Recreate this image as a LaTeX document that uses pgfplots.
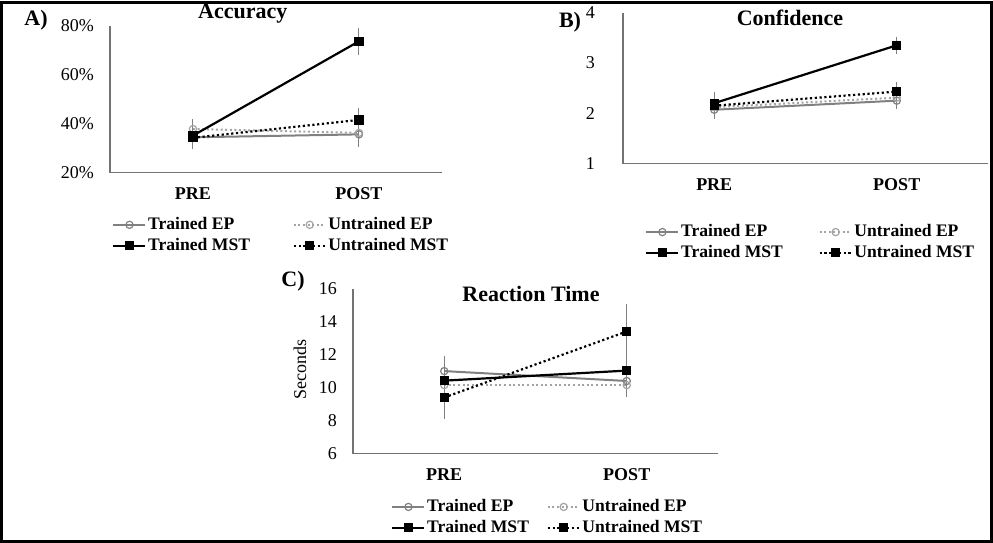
\documentclass[border=0pt]{standalone}
\usepackage{fontspec}
\setmainfont{Liberation Serif}
\usepackage{pgfplots}
\pgfplotsset{compat=1.18}
\definecolor{tep}{gray}{0.50}
\definecolor{uep}{gray}{0.64}
\definecolor{errc}{gray}{0.50}
\definecolor{axc}{gray}{0.45}
\pgfplotsset{
  panel/.style={
    scale only axis,
    axis line style={draw=none},
    major tick length=0pt,
    xmin=-0.5, xmax=1.5,
    xtick={0,1}, xticklabels={PRE,POST},
    xticklabel style={font=\bfseries\fontsize{9}{10}\selectfont, yshift=-4pt},
    yticklabel style={font=\fontsize{9}{10}\selectfont, xshift=-4.5pt},
    /pgf/number format/assume math mode=true,
    clip=false,
    legend columns=2,
    legend cell align=left,
    legend image code/.code={\draw[mark repeat=2,mark phase=2,##1] plot coordinates {(0pt,0pt) (8pt,0pt) (16pt,0pt)};},
    legend style={draw=none, fill=none, inner sep=0pt, row sep=1.2pt,
      font=\bfseries\fontsize{8.8}{9.5}\selectfont, anchor=north west,
      nodes={inner sep=0.8pt}},
    every axis title shift=0pt,
    title style={font=\bfseries\fontsize{11}{13}\selectfont, anchor=center, inner sep=0pt},
    execute at begin axis={\draw[axc, line width=0.7pt] (rel axis cs:0,1) -- (rel axis cs:0,0) -- (rel axis cs:1,0);},
  },
  TEP/.style={color=tep, line width=1pt, mark=o, mark size=1.8pt, mark options={solid, fill=white, line width=0.6pt}},
  UEP/.style={color=uep, line width=1pt, dash pattern=on 1pt off 1.3pt, mark=o, mark size=1.8pt, mark options={solid, fill=white, line width=0.6pt}},
  TMST/.style={color=black, line width=1.1pt, mark=square*, mark size=1.75pt, mark options={solid}},
  UMST/.style={color=black, line width=1.1pt, dash pattern=on 1.1pt off 1.3pt, mark=square*, mark size=1.75pt, mark options={solid}},
  EB/.style={error bars/.cd, y dir=both, y explicit,
    error bar style={solid, draw=errc, line width=0.5pt},
    error mark options={solid, draw=errc, mark size=1.6pt, line width=0.5pt}},
}
\begin{document}
\begin{tikzpicture}
% outer frame
\draw[line width=1.5pt] (0.75pt,-0.75pt) rectangle (495.75pt,-270.25pt);

% ---------- A) Accuracy ----------
\begin{axis}[panel,
  at={(55pt,-86pt)}, anchor=south west,
  width=166pt, height=73.5pt,
  ymin=20, ymax=80, ytick={20,40,60,80}, yticklabels={20\%,40\%,60\%,80\%},
  title={Accuracy}, title style={at={(axis description cs:0.40,1.082)}},
  legend style={at={(axis description cs:0.006,-0.29)},
    /tikz/every even column/.append style={column sep=20.5pt}},
]
\addplot[TEP, EB] table[x=x, y=y, y error=e] {
x y e
0 34.4 3.5
1 35.6 3.8
};
\addplot[UEP, EB] table[x=x, y=y, y error=e] {
x y e
0 37.8 2.6
1 36.2 3.0
};
\addplot[TMST, EB] table[x=x, y=y, y error=e] {
x y e
0 35.1 3.8
1 73.6 4.3
};
\addplot[UMST, EB] table[x=x, y=y, y error=e] {
x y e
0 34.2 3.4
1 41.5 3.4
};
\legend{Trained EP, Untrained EP, Trained MST, Untrained MST}
\end{axis}

% ---------- B) Confidence ----------
\begin{axis}[panel,
  at={(311.5pt,-81.5pt)}, anchor=south west,
  width=182.5pt, height=75.5pt,
  ymin=1, ymax=4, ytick={1,2,3,4},
  yticklabel style={xshift=-6pt},
  title={Confidence}, title style={at={(axis description cs:0.4575,0.962)}},
  legend style={at={(axis description cs:0.06,-0.39)},
    /tikz/every even column/.append style={column sep=17pt}},
]
\addplot[TEP, EB] table[x=x, y=y, y error=e] {
x y e
0 2.07 0.12
1 2.25 0.10
};
\addplot[UEP, EB] table[x=x, y=y, y error=e] {
x y e
0 2.12 0.13
1 2.31 0.10
};
\addplot[TMST, EB] table[x=x, y=y, y error=e] {
x y e
0 2.20 0.16
1 3.35 0.10
};
\addplot[UMST, EB] table[x=x, y=y, y error=e] {
x y e
0 2.15 0.14
1 2.43 0.12
};
\legend{Trained EP, Untrained EP, Trained MST, Untrained MST}
\end{axis}

% ---------- C) Reaction Time ----------
\begin{axis}[panel,
  at={(176.5pt,-226.5pt)}, anchor=south west,
  width=182.5pt, height=82.5pt,
  ymin=6, ymax=16, ytick={6,8,10,12,14,16},
  ylabel={Seconds}, ylabel style={at={(axis description cs:-0.145,0.51)}, anchor=center, font=\fontsize{9}{10}\selectfont},
  title={Reaction Time}, title style={at={(axis description cs:0.4877,0.968)}},
  legend style={at={(axis description cs:0.104,-0.265)},
    /tikz/every even column/.append style={column sep=8pt}},
]
\addplot[TEP, EB] table[x=x, y=y, y error=e] {
x y e
0 11.0 0.7
1 10.4 0.8
};
\addplot[UEP, EB] table[x=x, y=y, y error=e] {
x y e
0 10.15 0.6
1 10.15 0.5
};
\addplot[TMST, EB] table[x=x, y=y, y error=e] {
x y e
0 10.42 0.6
1 11.03 1.2
};
\addplot[UMST, EB] table[x=x, y=y, y error=e] {
x y e
0 9.40 1.1
1 13.40 1.45
};
\legend{Trained EP, Untrained EP, Trained MST, Untrained MST}
\end{axis}

% panel letters
\node[font=\bfseries\fontsize{11}{13}\selectfont] at (18pt,-10pt) {A)};
\node[font=\bfseries\fontsize{11}{13}\selectfont] at (285pt,-11pt) {B)};
\node[font=\bfseries\fontsize{11}{13}\selectfont] at (146.5pt,-140.5pt) {C)};
\end{tikzpicture}
\end{document}
